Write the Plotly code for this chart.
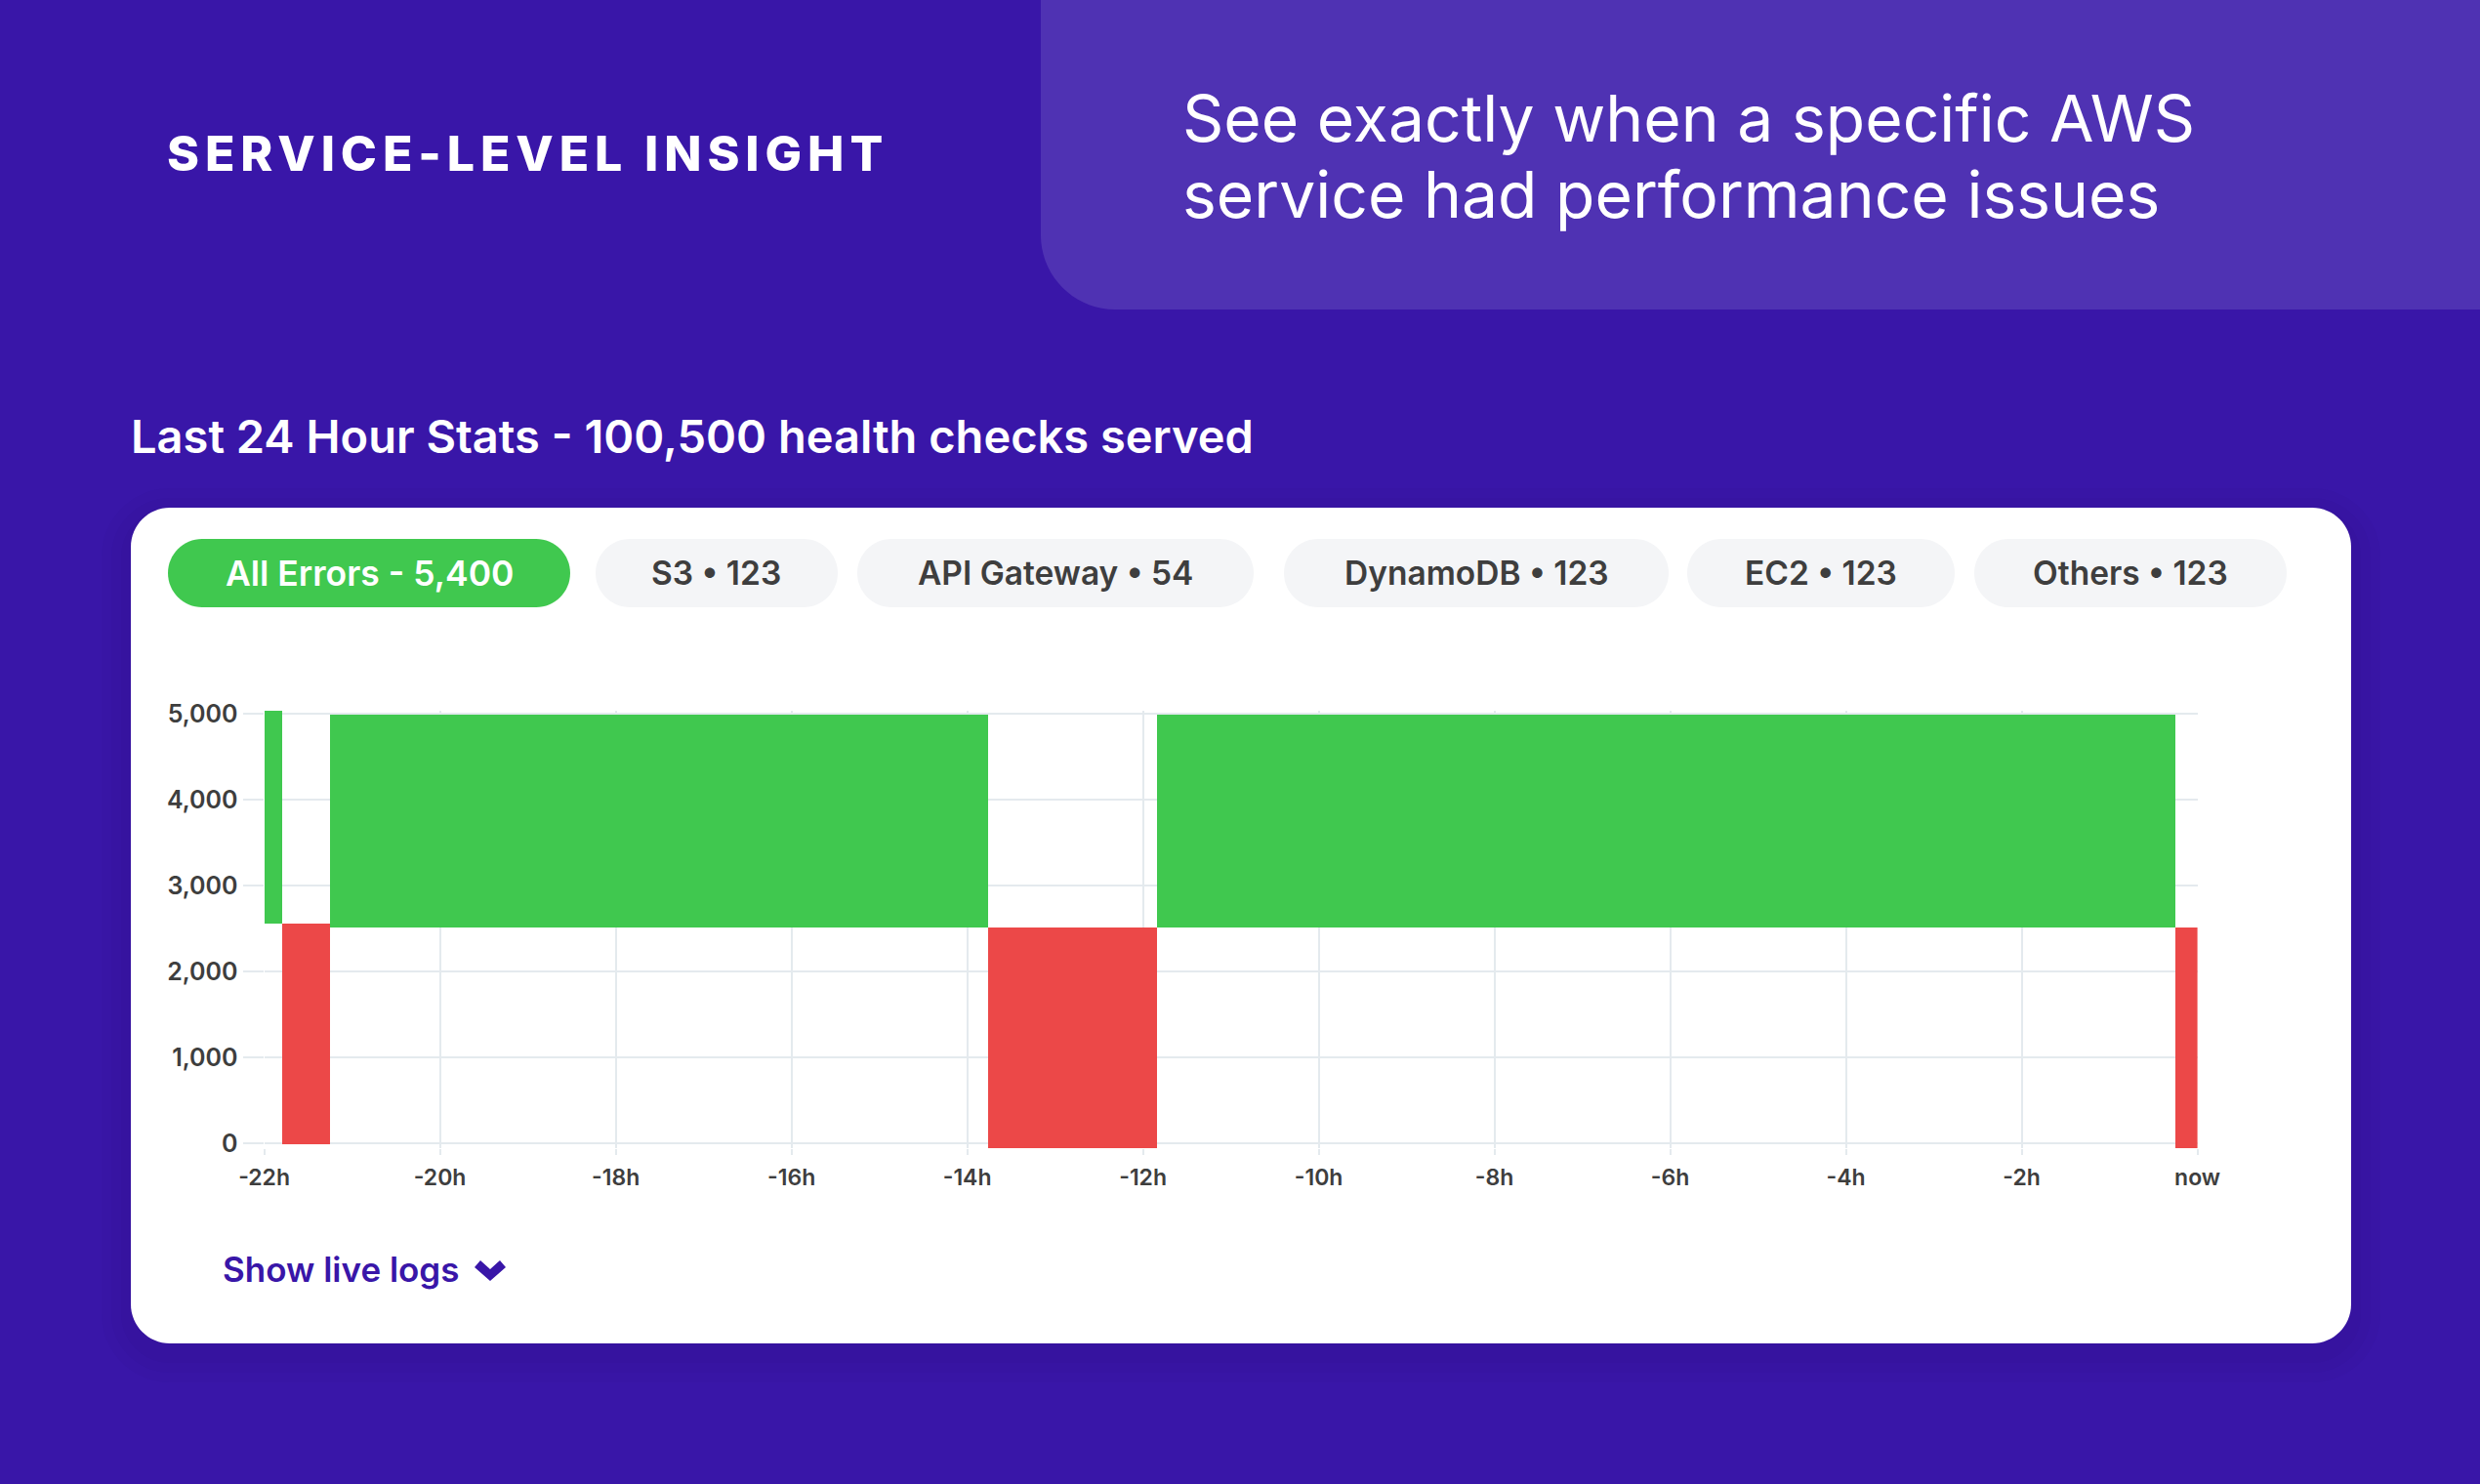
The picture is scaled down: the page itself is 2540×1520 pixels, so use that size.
import plotly.graph_objects as go

W = 2540
H = 1520

# hours before now, where the bars change colour
green_start = [-22.0, -21.26, -11.84]
green_end = [-21.8, -13.77, -0.26]
green_low = [2557, 2511, 2511]
green_high = [5034, 4989, 4989]

red_start = [-21.8, -13.77, -0.26]
red_end = [-21.26, -11.84, 0.0]
red_low = [-11, -57, -57]
red_high = [2557, 2511, 2511]

x_ticks = [-22, -20, -18, -16, -14, -12, -10, -8, -6, -4, -2, 0]
x_labels = ["-22h", "-20h", "-18h", "-16h", "-14h", "-12h", "-10h", "-8h", "-6h", "-4h", "-2h", "now"]
y_ticks = [0, 1000, 2000, 3000, 4000, 5000]

chip_labels = ["All Errors - 5,400", "S3 • 123", "API Gateway • 54", "DynamoDB • 123", "EC2 • 123", "Others • 123"]

PURPLE = "#3916a8"
PANEL = "#4f32b3"
GREEN = "#40c84f"
RED = "#ec4848"
GRID = "#e4eaee"
TEXT = "#3e3e3e"
FONT = "Inter"
K = 0.45  # bezier handle for a round corner


def px(x):
    return x / W


def py(y):
    return 1 - y / H


def corner(x0, y0, xc, yc, x1, y1):
    # from (x0, y0) round the corner (xc, yc) to (x1, y1)
    return (f"C {px(x0 + (xc - x0) * (1 - K))} {py(y0 + (yc - y0) * (1 - K))} "
            f"{px(x1 + (xc - x1) * (1 - K))} {py(y1 + (yc - y1) * (1 - K))} {px(x1)} {py(y1)}")


def rounded(x0, y0, x1, y1, r, corners=(True, True, True, True)):
    # corners: top-left, top-right, bottom-right, bottom-left
    tl, tr, br, bl = [r if c else 0 for c in corners]
    pts = [
        f"M {px(x0 + tl)} {py(y0)}",
        f"L {px(x1 - tr)} {py(y0)}",
        corner(x1 - tr, y0, x1, y0, x1, y0 + tr),
        f"L {px(x1)} {py(y1 - br)}",
        corner(x1, y1 - br, x1, y1, x1 - br, y1),
        f"L {px(x0 + bl)} {py(y1)}",
        corner(x0 + bl, y1, x0, y1, x0, y1 - bl),
        f"L {px(x0)} {py(y0 + tl)}",
        corner(x0, y0 + tl, x0, y0, x0 + tl, y0),
        "Z",
    ]
    return " ".join(pts)


def box(path, color, opacity=1):
    return dict(type="path", path=path, xref="paper", yref="paper", fillcolor=color,
                line=dict(width=0), layer="below", opacity=opacity)


def label(text, x, y, size, color, weight=400, anchor="left"):
    return dict(text=text, x=px(x), y=py(y), xref="paper", yref="paper", showarrow=False,
                xanchor=anchor, yanchor="middle", align=anchor,
                font=dict(family=FONT, size=size, color=color, weight=weight))


def bars(start, end, low, high, color):
    return go.Bar(
        x=[(a + b) / 2 for a, b in zip(start, end)],
        y=[h - l for l, h in zip(low, high)],
        base=low,
        width=[b - a for a, b in zip(start, end)],
        marker=dict(color=color, line=dict(width=0)),
        cliponaxis=False,
        showlegend=False,
    )


fig = go.Figure()
fig.add_trace(bars(green_start, green_end, green_low, green_high, GREEN))
fig.add_trace(bars(red_start, red_end, red_low, red_high, RED))

shapes = [box(rounded(1066, 0, 2540, 317, 76, (False, False, False, True)), PANEL)]
# soft shadow under the card
for grow in (30, 20, 10):
    shapes.append(box(rounded(134 - grow, 520 - grow + 10, 2408 + grow, 1376 + grow + 10, 40 + grow), "#1a0a50", 0.03))
shapes.append(box(rounded(134, 520, 2408, 1376, 40), "white"))

chip_x = [(172, 584), (610, 858), (878, 1284), (1315, 1709), (1728, 2002), (2022, 2342)]
annotations = [
    label("SERVICE-LEVEL INSIGHT", 169, 157, 50, "white", 800),
    label("See exactly when a specific AWS", 1209, 121, 66, "white"),
    label("service had performance issues", 1209, 199, 66, "white"),
    label("Last 24 Hour Stats - 100,500 health checks served", 132, 446, 47, "white", 600),
    label("Show live logs", 226, 1300, 35, PURPLE, 600),
]
for i, (text, (x0, x1)) in enumerate(zip(chip_labels, chip_x)):
    shapes.append(box(rounded(x0, 552, x1, 622, 35), GREEN if i == 0 else "#f4f5f7"))
    annotations.append(label(text, (x0 + x1) / 2, 587, 35.5 if i == 0 else 33.5, "white" if i == 0 else TEXT, 600, "center"))

# chevron next to the logs link
chevron = [(486, 1298), (492, 1291), (502, 1300), (512, 1291), (518, 1298), (502, 1312)]
shapes.append(box("M " + " L ".join(f"{px(a)} {py(b)}" for a, b in chevron) + " Z", PURPLE))

fig.update_layout(
    width=W,
    height=H,
    margin=dict(l=0, r=0, t=0, b=0, autoexpand=False),
    paper_bgcolor=PURPLE,
    plot_bgcolor="white",
    bargap=0,
    shapes=shapes,
    annotations=annotations,
    xaxis=dict(
        domain=[px(270.6), px(2250.6)],
        range=[-22, 0],
        tickvals=x_ticks,
        ticktext=x_labels,
        ticks="outside",
        ticklen=6,
        tickwidth=2,
        tickcolor=GRID,
        gridcolor=GRID,
        gridwidth=2,
        zeroline=False,
        showline=False,
        ticklabelstandoff=3,
        tickfont=dict(family=FONT, size=23, color=TEXT, weight=600),
    ),
    yaxis=dict(
        # range runs a little past 0 and 5,000 because the bars do
        domain=[py(1176), py(728)],
        range=[-57, 5034],
        tickvals=y_ticks,
        tickformat=",",
        ticks="outside",
        ticklen=21,
        tickwidth=2,
        tickcolor=GRID,
        gridcolor=GRID,
        gridwidth=2,
        zeroline=False,
        showline=False,
        tickfont=dict(family=FONT, size=25, color=TEXT, weight=600),
    ),
)

# page margin off, and the spaced-out caps of the heading
post = """
document.body.style.margin = '0';
var gd = document.getElementById('{plot_id}');
function spaceTitle() {
    var t = gd.querySelector('.annotation-text');
    if (t) { t.style.letterSpacing = '5.9px'; }
}
spaceTitle();
gd.on('plotly_afterplot', spaceTitle);
"""

fig.write_html("out.html", post_script=post, config=dict(displayModeBar=False))
